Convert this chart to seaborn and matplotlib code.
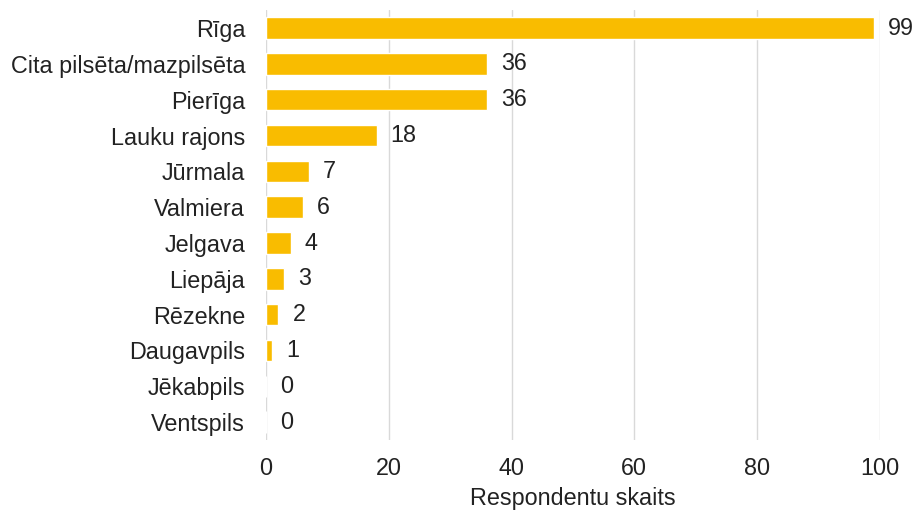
import matplotlib
matplotlib.use("Agg")
import matplotlib.pyplot as plt
import seaborn as sns
import pandas as pd

categories = ["Rīga", "Cita pilsēta/mazpilsēta", "Pierīga", "Lauku rajons", "Jūrmala",
              "Valmiera", "Jelgava", "Liepāja", "Rēzekne", "Daugavpils", "Jēkabpils", "Ventspils"]
values = [99, 36, 36, 18, 7, 6, 4, 3, 2, 1, 0, 0]
xticks = [0, 20, 40, 60, 80, 100]
xlabel = "Respondentu skaits"

sns.set_theme(style="white")
plt.rcParams['font.family'] = ['Liberation Sans', 'DejaVu Sans']

FS = 16.8
TC = "#222222"
df = pd.DataFrame({"cat": categories, "val": values})
fig = plt.figure(figsize=(9.15, 5.11), dpi=100)
ax = fig.add_axes([0.2907, 0.139, 0.6710, 0.841])
sns.barplot(data=df, y="cat", x="val", orient="h", color="#F9BC00", saturation=1,
            width=0.6, ax=ax)
ax.set_xlim(0, 100)
ax.set_ylim(11.5, -0.5)
ax.set_xticks(xticks)
ax.xaxis.grid(True, color="#D9D9D9", linewidth=1)
ax.set_axisbelow(True)
for s in ax.spines.values():
    s.set_visible(False)
ax.tick_params(axis="both", length=0, labelsize=FS, colors=TC)
ax.tick_params(axis="x", pad=12)
ax.tick_params(axis="y", pad=15)
ax.set_ylabel("")
ax.set_xlabel(xlabel, fontsize=FS, color=TC, labelpad=5)
for i, v in enumerate(values):
    ax.text(v + 2.3, i, str(v), va="center", ha="left", fontsize=FS, color=TC, clip_on=False)
fig.savefig("out.png", dpi=100)
